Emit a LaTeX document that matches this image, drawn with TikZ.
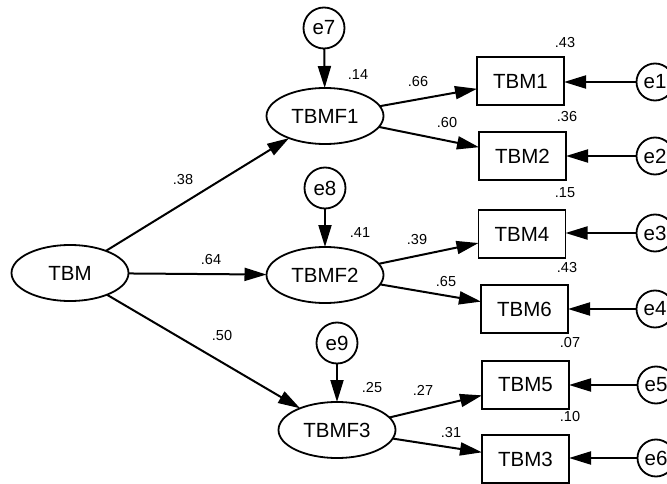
\documentclass[tikz,border=0pt]{standalone}
\usepackage{fontspec}
\setmainfont{Liberation Sans}
\usetikzlibrary{arrows.meta,shapes.geometric}
\begin{document}
\begin{tikzpicture}[x=1pt,y=-1pt,
  every node/.style={inner sep=0pt, outer sep=0pt},
  latent/.style={draw, line width=1.8pt, ellipse, minimum width=117pt, minimum height=56pt,
    font=\fontsize{20.5}{22}\selectfont},
  observed/.style={draw, line width=1.8pt, rectangle, minimum width=87pt, minimum height=48pt,
    font=\fontsize{20.5}{22}\selectfont},
  err/.style={draw, line width=1.8pt, circle, minimum size=41pt,
    font=\fontsize{20.5}{22}\selectfont},
  errs/.style={err, minimum size=37pt},
  coef/.style={font=\fontsize{14.5}{16}\selectfont},
  arr/.style={line width=2pt, -{Triangle[length=22pt,width=13pt]}}
]
\useasboundingbox (0,0) rectangle (667,484);

% latent variables
\node[latent] (tbm)   at (70,273)  {TBM};
\node[latent] (tbmf1) at (325,116) {TBMF1};
\node[latent] (tbmf2) at (325,275) {TBMF2};
\node[latent] (tbmf3) at (337,430) {TBMF3};

% disturbances of the factors
\node[err] (e7) at (324,28)  {e7};
\node[err] (e8) at (325,188) {e8};
\node[err] (e9) at (337,343) {e9};

% indicators
\node[observed] (tbm1) at (520.5,81)  {TBM1};
\node[observed] (tbm2) at (522.5,156) {TBM2};
\node[observed] (tbm4) at (522,234)   {TBM4};
\node[observed] (tbm6) at (524.5,309) {TBM6};
\node[observed] (tbm5) at (525.5,385) {TBM5};
\node[observed] (tbm3) at (525.5,459) {TBM3};

% measurement errors
\node[errs] (e1) at (655,82)  {e1};
\node[errs] (e2) at (655,156) {e2};
\node[errs] (e3) at (655,233) {e3};
\node[errs] (e4) at (655,309) {e4};
\node[errs] (e5) at (656,385) {e5};
\node[errs] (e6) at (656,458) {e6};

% structural paths
\draw[arr] (tbm) -- (tbmf1);
\draw[arr] (tbm) -- (tbmf2);
\draw[arr] (tbm) -- (tbmf3);
\draw[arr] (e7) -- (tbmf1);
\draw[arr] (e8) -- (tbmf2);
\draw[arr] (e9) -- (tbmf3);

% loadings
\draw[arr] (tbmf1) -- (tbm1);
\draw[arr] (tbmf1) -- (tbm2);
\draw[arr] (tbmf2) -- (tbm4);
\draw[arr] (tbmf2) -- (tbm6);
\draw[arr] (tbmf3) -- (tbm5);
\draw[arr] (tbmf3) -- (tbm3);

% error paths
\foreach \e/\b in {e1/tbm1,e2/tbm2,e3/tbm4,e4/tbm6,e5/tbm5,e6/tbm3}
  \draw[arr] (\e) -- (\e -| \b.east);

% estimates
\node[coef] (c38) at (183,180) {.38};
\node[coef] (c64) at (211,260) {.64};
\node[coef] (c50) at (222,336) {.50};
\node[coef] (c14) at (358,75)  {.14};
\node[coef] (c41) at (360,233) {.41};
\node[coef] (c25) at (372,388) {.25};
\node[coef] (c66) at (418,82)  {.66};
\node[coef] (c60) at (447,123) {.60};
\node[coef] (c39) at (417,240) {.39};
\node[coef] (c65) at (446,282) {.65};
\node[coef] (c27) at (423,390) {.27};
\node[coef] (c31) at (451,433) {.31};
\node[coef] (r1) at (565,43)  {.43};
\node[coef] (r2) at (567,117) {.36};
\node[coef] (r4) at (565,193) {.15};
\node[coef] (r6) at (567,268) {.43};
\node[coef] (r5) at (570,343) {.07};
\node[coef] (r3) at (570,417) {.10};
\end{tikzpicture}
\end{document}
